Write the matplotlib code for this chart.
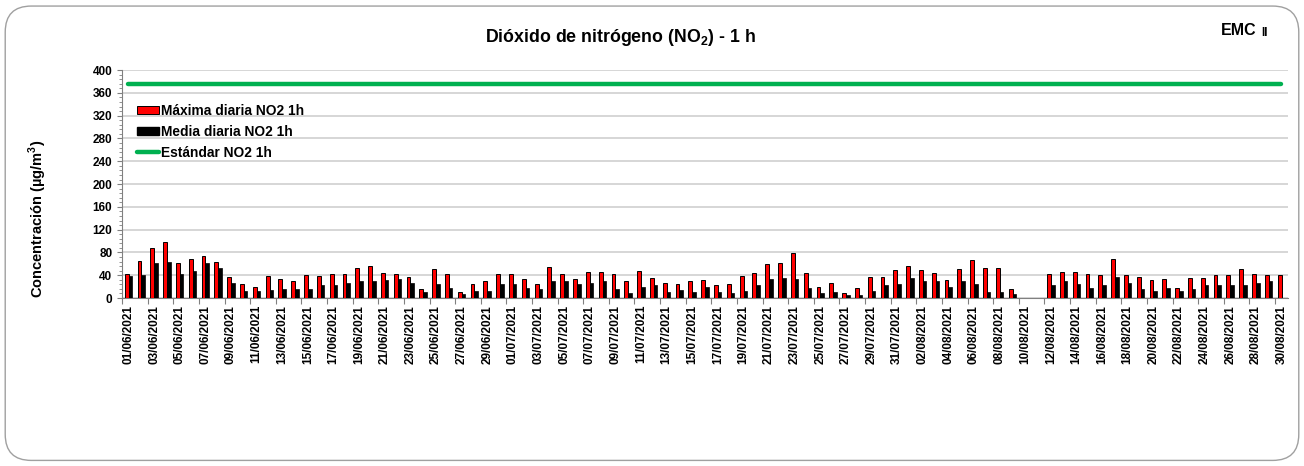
import matplotlib.pyplot as plt
import numpy as np
import pandas as pd
from matplotlib.patches import FancyBboxPatch, Patch
from matplotlib.lines import Line2D
from matplotlib.ticker import MultipleLocator

plt.rcParams['font.family'] = ['Liberation Sans', 'DejaVu Sans']
plt.rcParams['font.weight'] = 'bold'
plt.rcParams['mathtext.fontset'] = 'custom'
plt.rcParams['mathtext.bf'] = 'Liberation Sans:bold'
plt.rcParams['mathtext.rm'] = 'Liberation Sans:bold'

# fechas 01/06/2021 - 30/08/2021
fechas = pd.date_range('2021-06-01', '2021-08-30', freq='D')
etiquetas = [d.strftime('%d/%m/%Y') for d in fechas]

nan = np.nan
maxima = [43, 65, 87, 99, 62, 68, 74, 63, 36, 25, 19, 39, 34, 29, 40, 39, 43, 43, 52, 56,
          44, 43, 36, 15, 51, 42, 10, 24, 30, 43,
          43, 34, 25, 54, 43, 34, 46, 46, 42, 29, 47, 35, 26, 25, 29, 32, 22, 25, 39, 44,
          60, 62, 79, 44, 19, 27, 8, 18, 37, 37, 50,
          56, 50, 44, 32, 51, 67, 53, 53, 15, nan, nan, 43, 45, 46, 43, 40, 68, 40, 36,
          31, 33, 18, 35, 35, 41, 41, 51, 42, 40, 40]
media = [39, 40, 62, 63, 42, 47, 61, 53, 26, 12, 13, 14, 15, 16, 16, 22, 23, 26, 30, 30,
         31, 33, 26, 11, 24, 17, 7, 13, 13, 25,
         24, 18, 15, 29, 30, 25, 27, 29, 15, 9, 20, 23, 11, 14, 11, 19, 11, 9, 13, 22,
         34, 35, 34, 17, 9, 11, 5, 6, 12, 23, 25,
         35, 29, 30, 20, 29, 25, 11, 11, 7, nan, nan, 22, 29, 25, 18, 23, 36, 26, 15,
         12, 18, 12, 15, 22, 23, 22, 23, 27, 29, nan]
estandar = [376] * len(fechas)

x = np.arange(len(fechas))

fig = plt.figure(figsize=(13.04, 4.66), dpi=100)
borde = FancyBboxPatch((0.004, 0.012), 0.992, 0.975, boxstyle='round,pad=0,rounding_size=0.02',
                       transform=fig.transFigure, facecolor='none', edgecolor='#a0a0a0',
                       linewidth=1, mutation_aspect=2.8)
fig.patches.append(borde)

ax = fig.add_axes([0.0936, 0.3605, 0.894, 0.489])
ax.set_facecolor('none')

ax.bar(x - 0.14, maxima, width=0.3, color='#ff0000', edgecolor='black', linewidth=0.7, zorder=3)
ax.bar(x + 0.15, media, width=0.28, color='black', edgecolor='black', linewidth=0.5, zorder=3)
ax.plot(x, estandar, color='#00b050', linewidth=3.2, solid_capstyle='round', zorder=4)

ax.set_xlim(-0.5, len(x) - 0.5)
ax.set_ylim(0, 400)
ax.yaxis.set_major_locator(MultipleLocator(40))
ax.yaxis.set_minor_locator(MultipleLocator(8))
ax.grid(axis='y', color='#d0d0d0', linewidth=1.2, zorder=0)
ax.set_axisbelow(True)

ax.set_xticks(x[::2] - 0.5)
ax.set_xticklabels([])
ax.set_xticks(x[::2], minor=True)
ax.set_xticklabels(etiquetas[::2], minor=True, rotation=90, fontsize=8.5, fontweight='bold')
ax.tick_params(axis='x', which='minor', length=0, pad=5)
ax.tick_params(axis='x', which='major', length=4, color='#808080')
ax.tick_params(axis='y', which='both', color='#808080', labelsize=8.5)
ax.tick_params(axis='y', which='minor', length=2)
for lab in ax.get_yticklabels():
    lab.set_fontweight('bold')

for s in ['top', 'right']:
    ax.spines[s].set_visible(False)
ax.spines['left'].set_color('#808080')
ax.spines['bottom'].set_color('#808080')

handles = [Patch(facecolor='#ff0000', edgecolor='black', linewidth=0.7),
           Patch(facecolor='black', edgecolor='black'),
           Line2D([0], [0], color='#00b050', linewidth=3.2, solid_capstyle='round')]
labels = ['Máxima diaria NO2 1h', 'Media diaria NO2 1h', 'Estándar NO2 1h']
leg = ax.legend(handles, labels, loc='upper left', bbox_to_anchor=(0.013, 0.852), frameon=False,
                prop={'weight': 'bold', 'size': 9.9}, handlelength=1.6, handleheight=0.5,
                handletextpad=0.15, labelspacing=0.5, borderaxespad=0, borderpad=0)

fig.text(0.476, 0.92, r'Dióxido de nitrógeno (NO$_\mathbf{2}$) - 1 h', ha='center', va='center',
         fontsize=12.8, fontweight='bold')
fig.text(0.950, 0.935, 'EMC', ha='center', va='center', fontsize=11.5, fontweight='bold')
fig.text(0.970, 0.93, 'II', ha='center', va='center', fontsize=8.5, fontweight='bold')
fig.text(0.029, 0.53, r'Concentración (µg/m$^\mathbf{3}$)', rotation=90, ha='center', va='center',
         fontsize=10.5, fontweight='bold')

fig.savefig('out.png', dpi=100)
